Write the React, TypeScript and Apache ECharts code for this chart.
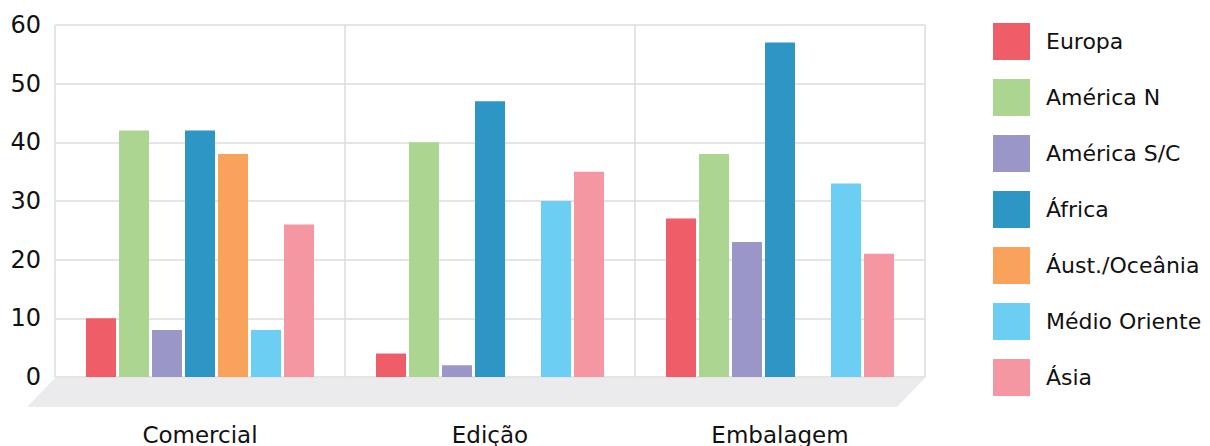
import React, { useEffect, useRef } from "react";
import * as echarts from "echarts";

const categories = ["Comercial", "Edição", "Embalagem"];
const seriesNames = ["Europa", "América N", "América S/C", "África", "Áust./Oceânia", "Médio Oriente", "Ásia"];
const europa = [10, 4, 27];
const americaN = [42, 40, 38];
const americaSC = [8, 2, 23];
const africa = [42, 47, 57];
const australia = [38, 0, 0];
const medioOriente = [8, 30, 33];
const asia = [26, 35, 21];
const seriesValues = [europa, americaN, americaSC, africa, australia, medioOriente, asia];
const colors = ["#EF5D68", "#ABD591", "#9B96C8", "#2D96C4", "#F9A25C", "#6DCEF4", "#F497A2"];

const FONT = "DejaVu Sans";

export default function App() {
  const ref = useRef<HTMLDivElement>(null);
  useEffect(() => {
    if (!ref.current) return;
    const chart = echarts.init(ref.current, undefined, { renderer: "svg" });
    chart.setOption({
      animation: false,
      backgroundColor: "#ffffff",
      grid: { left: 55, right: 285, top: 25, bottom: 69, containLabel: false },
      legend: {
        orient: "vertical",
        left: 993,
        top: 23,
        padding: 0,
        itemWidth: 37,
        itemHeight: 37,
        itemGap: 19,
        icon: "rect",
        textStyle: { fontFamily: FONT, fontSize: 22, color: "#111", padding: [0, 0, 0, 11] },
        data: seriesNames,
      },
      xAxis: {
        type: "category",
        data: categories,
        axisLine: { show: false },
        axisTick: { show: false },
        axisLabel: { fontFamily: FONT, fontSize: 23, color: "#111", margin: 46 },
        splitLine: { show: true, lineStyle: { color: "#dcdcdc", width: 1.5 } },
      },
      yAxis: {
        type: "value",
        min: 0,
        max: 60,
        interval: 10,
        axisLine: { show: false },
        axisTick: { show: false },
        axisLabel: { fontFamily: FONT, fontSize: 24, color: "#111", margin: 14 },
        splitLine: { show: true, lineStyle: { color: "#dcdcdc", width: 1.5 } },
      },
      graphic: [
        {
          type: "polygon",
          z: 0,
          shape: { points: [[55, 378], [925, 378], [897, 407], [27, 407]] },
          style: { fill: "#EBEBED" },
        },
      ],
      series: seriesNames.map((name, i) => ({
        name,
        type: "bar",
        data: seriesValues[i],
        barWidth: 30,
        barGap: "10%",
        itemStyle: { color: colors[i] },
      })),
    });
    return () => chart.dispose();
  }, []);
  return <div ref={ref} style={{ width: 1210, height: 446, position: "absolute", left: 0, top: 0 }} />;
}
